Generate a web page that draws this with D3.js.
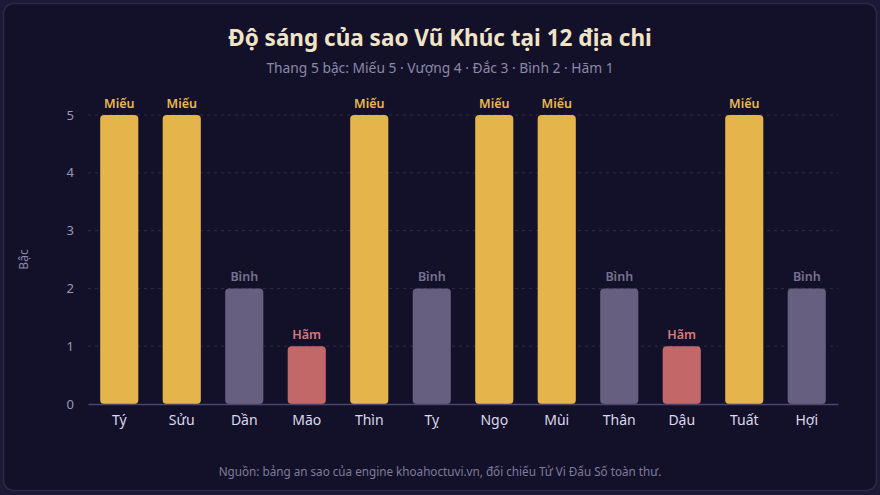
<!DOCTYPE html>
<html>
<head>
<meta charset="utf-8">
<script src="https://cdn.jsdelivr.net/npm/d3@7"></script>
<style>
  html, body { margin: 0; padding: 0; background: #1b1934; }
  body { width: 880px; height: 495px; overflow: hidden; }
  svg { display: block; font-family: "Noto Sans", "Open Sans", sans-serif; }
</style>
</head>
<body>
<div id="chart"></div>
<script>
// dữ liệu
const branches = ["Tý", "Sửu", "Dần", "Mão", "Thìn", "Tỵ", "Ngọ", "Mùi", "Thân", "Dậu", "Tuất", "Hợi"];
const levels = [5, 5, 2, 1, 5, 2, 5, 5, 2, 1, 5, 2];
const levelNames = ["Miếu", "Miếu", "Bình", "Hãm", "Miếu", "Bình", "Miếu", "Miếu", "Bình", "Hãm", "Miếu", "Bình"];
const yTicks = [0, 1, 2, 3, 4, 5];

const barColor = { "Miếu": "#e5b44a", "Bình": "#675f80", "Hãm": "#c26868" };
const labelColor = { "Miếu": "#e8b850", "Bình": "#77718f", "Hãm": "#d97a78" };

const W = 880, H = 495;
const margin = { top: 115, right: 42, bottom: 91, left: 88 };

const data = branches.map((b, i) => ({ branch: b, level: levels[i], name: levelNames[i] }));

const svg = d3.select("#chart")
  .append("svg")
  .attr("width", W)
  .attr("height", H);

// card
svg.append("rect")
  .attr("x", 3.5).attr("y", 3.5)
  .attr("width", W - 7).attr("height", H - 8)
  .attr("rx", 10)
  .attr("fill", "#13112a")
  .attr("stroke", "#2c2948")
  .attr("stroke-width", 1.5);

svg.append("text")
  .attr("x", W / 2).attr("y", 46)
  .attr("text-anchor", "middle")
  .attr("font-size", 22.5)
  .attr("font-weight", "bold")
  .attr("fill", "#f1e4c6")
  .text("Độ sáng của sao Vũ Khúc tại 12 địa chi");

svg.append("text")
  .attr("x", W / 2).attr("y", 73)
  .attr("text-anchor", "middle")
  .attr("font-size", 13.8)
  .attr("fill", "#8c88a8")
  .text("Thang 5 bậc: Miếu 5 · Vượng 4 · Đắc 3 · Bình 2 · Hãm 1");

const x = d3.scaleBand()
  .domain(branches)
  .range([margin.left, W - margin.right])
  .paddingInner(0.39)
  .paddingOuter(0.195);

const y = d3.scaleLinear()
  .domain([0, 5])
  .range([H - margin.bottom, margin.top]);

// grid
svg.append("g")
  .selectAll("line")
  .data(yTicks.filter(d => d > 0))
  .enter().append("line")
  .attr("x1", margin.left).attr("x2", W - margin.right)
  .attr("y1", d => y(d)).attr("y2", d => y(d))
  .attr("stroke", "#2d2a48")
  .attr("stroke-dasharray", "3,4");

// y axis
const yAxis = svg.append("g")
  .attr("transform", "translate(" + margin.left + ",0)")
  .call(d3.axisLeft(y).tickValues(yTicks).tickFormat(d3.format("d")).tickSize(0).tickPadding(14));
yAxis.select(".domain").remove();
yAxis.selectAll("text")
  .attr("fill", "#9a96b4")
  .attr("font-size", 13)
  .attr("font-family", "Noto Sans, sans-serif");

svg.append("text")
  .attr("transform", "translate(28," + ((margin.top + H - margin.bottom) / 2) + ") rotate(-90)")
  .attr("text-anchor", "middle")
  .attr("font-size", 12)
  .attr("fill", "#8c88a8")
  .text("Bậc");

// bars
svg.append("g")
  .selectAll("rect")
  .data(data)
  .enter().append("rect")
  .attr("x", d => x(d.branch))
  .attr("y", d => y(d.level))
  .attr("width", x.bandwidth())
  .attr("height", d => y(0) - y(d.level))
  .attr("rx", 4)
  .attr("fill", d => barColor[d.name]);

// labels on bars
svg.append("g")
  .selectAll("text")
  .data(data)
  .enter().append("text")
  .attr("x", d => x(d.branch) + x.bandwidth() / 2)
  .attr("y", d => y(d.level) - 7)
  .attr("text-anchor", "middle")
  .attr("font-size", 12.5)
  .attr("font-weight", 600)
  .attr("fill", d => labelColor[d.name])
  .text(d => d.name);

// x axis
const xAxis = svg.append("g")
  .attr("transform", "translate(0," + y(0) + ")")
  .call(d3.axisBottom(x).tickSize(0).tickPadding(11));
xAxis.select(".domain")
  .attr("stroke", "#4a4670")
  .attr("stroke-width", 1.5);
xAxis.selectAll("text")
  .attr("fill", "#dcd8ea")
  .attr("font-size", 14)
  .attr("font-family", "Noto Sans, sans-serif");

svg.append("text")
  .attr("x", W / 2).attr("y", 476)
  .attr("text-anchor", "middle")
  .attr("font-size", 11.7)
  .attr("fill", "#7f7b9b")
  .text("Nguồn: bảng an sao của engine khoahoctuvi.vn, đối chiếu Tử Vi Đẩu Số toàn thư.");
</script>
</body>
</html>
